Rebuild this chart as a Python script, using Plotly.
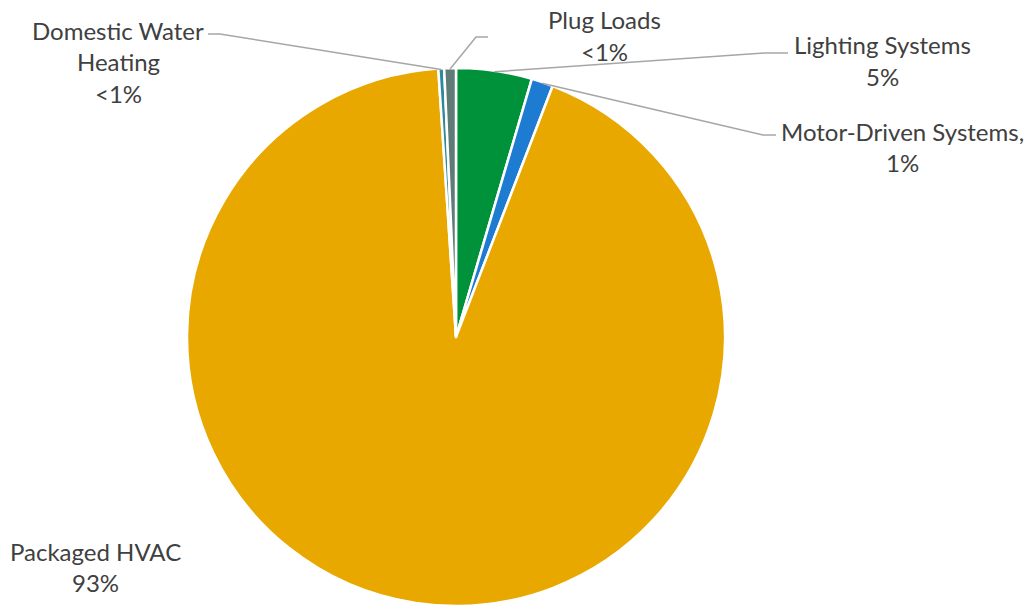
import math
import plotly.graph_objects as go

# ---- data ----
categories = ["Lighting Systems", "Motor-Driven Systems", "Packaged HVAC",
              "Domestic Water Heating", "Plug Loads"]
values = [4.55, 1.3, 93.1, 0.35, 0.7]
label_texts = ["Lighting Systems\n5%", "Motor-Driven Systems,\n1%",
               "Packaged HVAC\n93%", "Domestic Water\nHeating\n<1%",
               "Plug Loads\n<1%"]
colors = ["#00923A", "#1E7BD2", "#E8A800", "#2E8A9A", "#5E7B77"]

# ---- layout geometry (pixels) ----
W, H = 1027, 606
cx, cy, R = 456, 337, 269
LINE_GAP = 31.5

def px(x):
    return x / W

def py(y):
    return 1 - y / H

# first-line centre of each label (pixels) and leader-line elbows / ends
label_pos = [(882, 45), (902, 131), (95, 551), (118, 30), (604, 20)]
leader_elbows = [[(764, 53), (788, 53)],
                 [(763, 135), (776, 135)],
                 None,
                 [(220, 34), (208, 34)],
                 [(476, 37), (488, 37)]]

fig = go.Figure(go.Pie(
    labels=categories,
    values=values,
    sort=False,
    direction="clockwise",
    rotation=0,
    textinfo="none",
    hoverinfo="label+percent",
    marker=dict(colors=colors, line=dict(color="white", width=2.5)),
    domain=dict(x=[px(cx - R), px(cx + R)], y=[py(cy + R), py(cy - R)]),
    showlegend=False,
))

total = sum(values)
cum = 0.0
shapes = []
annotations = []
for i, v in enumerate(values):
    mid = (cum + v / 2) / total * 2 * math.pi
    cum += v
    ax = cx + (R - 1) * math.sin(mid)
    ay = cy - (R - 1) * math.cos(mid)
    if leader_elbows[i]:
        pts = [(ax, ay)] + leader_elbows[i]
        path = "M " + " L ".join(f"{px(x):.5f},{py(y):.5f}" for x, y in pts)
        shapes.append(dict(type="path", path=path, xref="paper", yref="paper",
                           line=dict(color="#A6A6A6", width=1.5)))
    lx, ly = label_pos[i]
    for j, line in enumerate(label_texts[i].split("\n")):
        annotations.append(dict(text=line, x=px(lx), y=py(ly + j * LINE_GAP),
                                xref="paper", yref="paper", showarrow=False,
                                xanchor="center", yanchor="middle",
                                font=dict(family="Lato, Open Sans, sans-serif",
                                          size=24, color="#404040")))

fig.update_layout(
    width=W, height=H,
    margin=dict(l=0, r=0, t=0, b=0),
    paper_bgcolor="white",
    plot_bgcolor="white",
    shapes=shapes,
    annotations=annotations,
)

fig.write_html("out.html",
               config={"displayModeBar": False},
               post_script="document.body.style.margin='0';"
                           "document.body.style.overflow='hidden';")
